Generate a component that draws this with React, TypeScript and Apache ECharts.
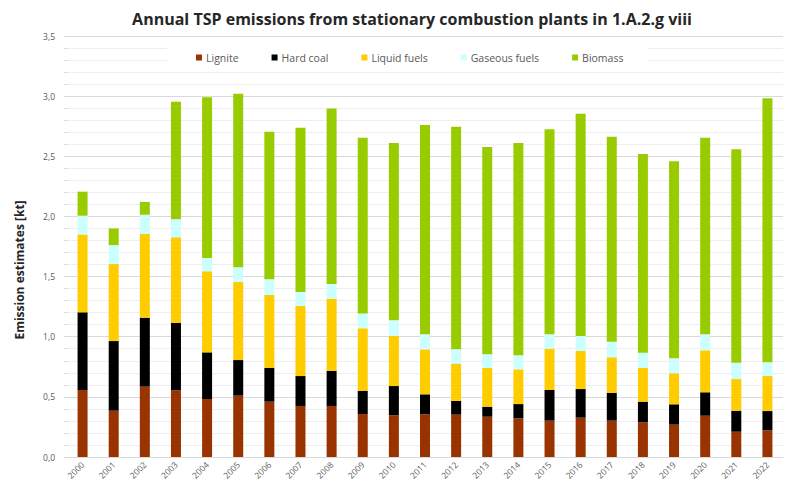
import React, { useEffect, useRef } from "react";
import * as echarts from "echarts";

const years = ["2000","2001","2002","2003","2004","2005","2006","2007","2008","2009","2010","2011","2012","2013","2014","2015","2016","2017","2018","2019","2020","2021","2022"];
const lignite = [0.557,0.385,0.585,0.554,0.482,0.51,0.46,0.424,0.424,0.357,0.347,0.355,0.352,0.335,0.322,0.302,0.327,0.302,0.288,0.269,0.343,0.21,0.222];
const hardCoal = [0.646,0.579,0.573,0.562,0.388,0.296,0.282,0.249,0.293,0.194,0.243,0.166,0.114,0.083,0.118,0.255,0.238,0.232,0.172,0.169,0.195,0.175,0.16];
const liquidFuels = [0.647,0.64,0.696,0.71,0.674,0.649,0.605,0.582,0.599,0.519,0.418,0.374,0.31,0.322,0.289,0.343,0.316,0.295,0.28,0.258,0.349,0.263,0.291];
const gaseousFuels = [0.156,0.158,0.16,0.15,0.11,0.122,0.13,0.117,0.122,0.124,0.128,0.125,0.119,0.114,0.116,0.12,0.125,0.129,0.127,0.124,0.133,0.136,0.114];
const biomass = [0.2,0.138,0.106,0.978,1.336,1.443,1.227,1.365,1.46,1.46,1.474,1.74,1.851,1.723,1.765,1.704,1.848,1.705,1.652,1.638,1.634,1.774,2.195];

const seriesNames = ["Lignite","Hard coal","Liquid fuels","Gaseous fuels","Biomass"];
const seriesData = [lignite, hardCoal, liquidFuels, gaseousFuels, biomass];
const colors = ["#993300","#000000","#FFCC00","#CCFFFF","#99CC00"];
const yAxisTitle = "Emission estimates [kt]";

export default function App() {
  const ref = useRef<HTMLDivElement>(null);
  useEffect(() => {
    const chart = echarts.init(ref.current!, null, { renderer: "svg" });
    chart.setOption({
      animation: false,
      backgroundColor: "#fff",
      textStyle: { fontFamily: "'Open Sans', sans-serif" },
      title: {
        text: "Annual TSP emissions from stationary combustion plants in 1.A.2.g viii",
        left: 407, top: 6, textAlign: "center",
        textStyle: { fontSize: 16, fontWeight: "bold", color: "#262626", fontFamily: "'Open Sans', sans-serif" }
      },
      legend: {
        left: 167, top: 45,
        padding: [7, 24, 7, 29],
        backgroundColor: "#fff",
        itemWidth: 6, itemHeight: 6, itemGap: 33,
        icon: "rect",
        textStyle: { fontSize: 10.5, color: "#595959", padding: [0, 0, 0, -1] },
        data: seriesNames
      },
      graphic: [{
        type: "text",
        x: 19, y: 270,
        rotation: Math.PI / 2,
        style: {
          text: yAxisTitle,
          fontSize: 12, fontWeight: "bold", fill: "#262626",
          fontFamily: "'Open Sans', sans-serif",
          textAlign: "center", textVerticalAlign: "middle"
        }
      }],
      grid: { left: 67, right: 2, top: 36, bottom: 35, containLabel: false },
      xAxis: {
        type: "category",
        data: years,
        axisLine: { show: true, lineStyle: { color: "#d9d9d9" } },
        axisTick: { show: false },
        axisLabel: { rotate: 45, fontSize: 8.5, color: "#595959", margin: 6, interval: 0 }
      },
      yAxis: {
        type: "value",
        min: 0, max: 3.5, interval: 0.5,
        axisLine: { show: false },
        axisTick: { show: true, length: 3, inside: false, lineStyle: { color: "#d9d9d9" } },
        minorTick: { show: true, splitNumber: 5, length: 3, lineStyle: { color: "#d9d9d9" } },
        axisLabel: {
          fontSize: 8.5, color: "#595959", margin: 12,
          formatter: (v: number) => v.toFixed(1).replace(".", ",")
        },
        splitLine: { show: true, lineStyle: { color: "#d9d9d9", width: 1 } },
        minorSplitLine: { show: true, lineStyle: { color: "#eeeeee", width: 1 } }
      },
      series: seriesNames.map((n, i) => ({
        name: n,
        type: "bar",
        stack: "total",
        barWidth: 10,
        itemStyle: { color: colors[i] },
        data: seriesData[i]
      }))
    });
    return () => chart.dispose();
  }, []);
  return <div ref={ref} style={{ width: 785, height: 492, position: "absolute", left: 0, top: 0 }} />;
}
